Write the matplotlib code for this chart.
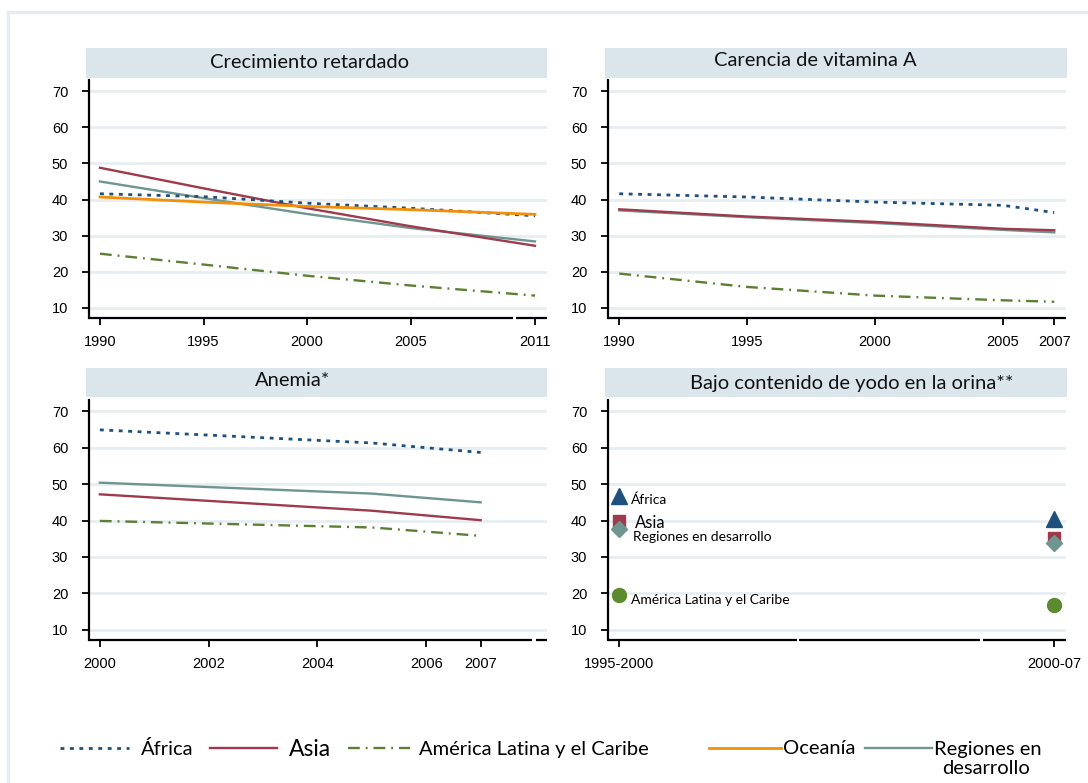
import matplotlib
matplotlib.use('Agg')
import matplotlib.pyplot as plt
from matplotlib.lines import Line2D
from matplotlib.patches import Rectangle

plt.rcParams['font.family'] = ['Liberation Sans', 'DejaVu Sans']
plt.rcParams['xtick.labelsize'] = 10.5
plt.rcParams['ytick.labelsize'] = 10.5
plt.rcParams['ytick.major.pad'] = 10
plt.rcParams['xtick.major.pad'] = 7
plt.rcParams['ytick.major.size'] = 5
plt.rcParams['xtick.major.size'] = 5
plt.rcParams['ytick.major.width'] = 1.3
plt.rcParams['xtick.major.width'] = 1.3
plt.rcParams['xtick.color'] = 'black'
plt.rcParams['ytick.color'] = 'black'

# ---------------- data ----------------
stunt_years = [1990, 1995, 2000, 2005, 2011]
stunt_africa = [41.6, 40.8, 39.0, 37.6, 35.5]
stunt_asia = [48.8, 43.1, 37.6, 32.6, 27.2]
stunt_lac = [25.0, 22.0, 18.9, 16.2, 13.4]
stunt_oceania = [40.7, 39.3, 38.1, 37.2, 35.9]
stunt_dev = [45.0, 40.4, 36.0, 32.1, 28.4]

vita_years = [1990, 1995, 2000, 2005, 2007]
vita_africa = [41.6, 40.7, 39.3, 38.4, 36.4]
vita_asia = [37.3, 35.3, 33.8, 31.9, 31.5]
vita_lac = [19.5, 15.8, 13.4, 12.1, 11.7]
vita_dev = [37.0, 35.1, 33.5, 31.6, 30.9]

anem_years = [2000, 2005, 2007]
anem_ticks = [2000, 2002, 2004, 2006, 2007]
anem_africa = [64.9, 61.3, 58.7]
anem_asia = [47.2, 42.7, 40.1]
anem_lac = [39.9, 38.1, 35.8]
anem_dev = [50.4, 47.4, 45.0]

iod_periods = ['1995-2000', '2000-07']
iod_africa = [46.7, 40.5]
iod_asia = [39.9, 35.3]
iod_lac = [19.6, 16.9]
iod_dev = [37.6, 33.9]

titles = ['Crecimiento retardado', 'Carencia de vitamina A', 'Anemia*',
          'Bajo contenido de yodo en la orina**']
legend_labels = ['África', 'Asia', 'América Latina y el Caribe', 'Oceanía',
                 'Regiones en\ndesarrollo']
y_ticks = [10, 20, 30, 40, 50, 60, 70]

# ---------------- styles ----------------
C_AFR = '#1f4f7d'
C_ASIA = '#9e3a4b'
C_LAC = '#5d7f33'
C_OCE = '#f0900c'
C_DEV = '#6e958f'
C_LACM = '#5b8a2f'
ST = {
    'afr': dict(color=C_AFR, lw=2.0, ls=(0, (1.4, 2.0))),
    'asia': dict(color=C_ASIA, lw=1.7, ls='-'),
    'lac': dict(color=C_LAC, lw=1.7, ls=(0, (5, 2.5, 0.8, 2.5))),
    'oce': dict(color=C_OCE, lw=2.0, ls='-'),
    'dev': dict(color=C_DEV, lw=1.7, ls='-'),
}

W, H = 1088, 783
fig = plt.figure(figsize=(W / 100, H / 100), dpi=100)
fig.patch.set_facecolor('white')

TITLE_FONT = ['Lato', 'DejaVu Sans']


def fx(x):
    return x / W


def fy(y):
    return 1 - y / H


def make_axes(l, t, r, b):
    return fig.add_axes([fx(l), fy(b), (r - l) / W, (b - t) / H])


def title_bar(l, t, r, b, text, cx, cy):
    fig.add_artist(Rectangle((fx(l), fy(b)), (r - l) / W, (b - t) / H,
                             transform=fig.transFigure, facecolor='#dae6ec',
                             edgecolor='none', zorder=0))
    fig.text(fx(cx), fy(cy), text, ha='center', va='center', fontsize=14.5,
             family=TITLE_FONT, color='#111111')


def style_axes(ax, gaps):
    ax.set_ylim(7.2, 73.1)
    ax.set_yticks(y_ticks)
    ax.yaxis.grid(True, color='#e7eef2', lw=2)
    ax.set_axisbelow(True)
    for s in ['top', 'right', 'bottom']:
        ax.spines[s].set_visible(False)
    ax.spines['left'].set_linewidth(1.6)
    # bottom spine drawn in segments (with small breaks)
    pts = [0.0] + [g for pair in gaps for g in pair] + [1.0]
    for i in range(0, len(pts), 2):
        ax.plot([pts[i], pts[i + 1]], [0, 0], transform=ax.transAxes,
                color='black', lw=1.6, clip_on=False, solid_capstyle='butt')


# outer frame
fig.add_artist(Rectangle((fx(8), fy(800)), (1110 - 8) / W, (800 - 12) / H,
                         transform=fig.transFigure, facecolor='none',
                         edgecolor='#e4ecef', lw=2.5))

# ---- panel 1 ----
title_bar(86, 48, 547, 78, titles[0], 309, 63)
ax1 = make_axes(89, 80, 547, 318)
ax1.plot(stunt_years, stunt_lac, **ST['lac'])
ax1.plot(stunt_years, stunt_dev, **ST['dev'])
ax1.plot(stunt_years, stunt_asia, **ST['asia'])
ax1.plot(stunt_years, stunt_africa, **ST['afr'])
ax1.plot(stunt_years, stunt_oceania, **ST['oce'])
ax1.set_xlim(1989.47, 2011.58)
ax1.set_xticks(stunt_years)
style_axes(ax1, [(0.926, 0.932)])

# ---- panel 2 ----
title_bar(605, 48, 1067, 78, titles[1], 815, 60)
ax2 = make_axes(608, 80, 1066, 318)
ax2.plot(vita_years, vita_lac, **ST['lac'])
ax2.plot(vita_years, vita_dev, **ST['dev'])
ax2.plot(vita_years, vita_asia, **ST['asia'])
ax2.plot(vita_years, vita_africa, **ST['afr'])
ax2.set_xlim(1989.56, 2007.46)
ax2.set_xticks(vita_years)
style_axes(ax2, [])

# ---- panel 3 ----
title_bar(86, 368, 547, 397, titles[2], 293, 381)
ax3 = make_axes(89, 400, 547, 640)
ax3.plot(anem_years, anem_lac, **ST['lac'])
ax3.plot(anem_years, anem_dev, **ST['dev'])
ax3.plot(anem_years, anem_asia, **ST['asia'])
ax3.plot(anem_years, anem_africa, **ST['afr'])
ax3.set_xlim(1999.80, 2008.22)
ax3.set_xticks(anem_ticks)
style_axes(ax3, [(0.967, 0.976)])

# ---- panel 4 ----
title_bar(605, 368, 1067, 397, titles[3], 852, 383)
ax4 = make_axes(608, 400, 1066, 640)
xs = list(range(len(iod_periods)))
ax4.plot(xs, iod_africa, ls='none', marker='^', ms=11, color=C_AFR)
ax4.plot(xs, iod_asia, ls='none', marker='s', ms=9, color=C_ASIA)
ax4.plot(xs, iod_dev, ls='none', marker='D', ms=8, color=C_DEV)
ax4.plot(xs, iod_lac, ls='none', marker='o', ms=10, color=C_LACM)
ax4.set_xlim(-0.026, 1.027)
ax4.set_xticks(xs)
ax4.set_xticklabels(iod_periods)
style_axes(ax4, [(0.413, 0.417), (0.812, 0.819)])
ax4.text(0.027, 45.8, 'África', fontsize=10, family=TITLE_FONT, va='center')
ax4.text(0.036, 39.2, 'Asia', fontsize=12, family=TITLE_FONT, va='center')
ax4.text(0.031, 35.6, 'Regiones en desarrollo', fontsize=10, family=TITLE_FONT,
         va='center')
ax4.text(0.027, 18.3, 'América Latina y el Caribe', fontsize=10,
         family=TITLE_FONT, va='center')

# ---- legend (manual) ----
leg_y = 748
samples = [
    ('afr', 60, 129, 141, 14.5),
    ('asia', 210, 277, 289, 16.5),
    ('lac', 348, 410, 419, 14.5),
    ('oce', 709, 781, 783, 14.5),
    ('dev', 865, 932, 934, 14.5),
]
for (key, x0, x1, tx, fs), lab in zip(samples, legend_labels):
    fig.add_artist(Line2D([fx(x0), fx(x1)], [fy(leg_y), fy(leg_y)],
                          transform=fig.transFigure, **ST[key]))
    if '\n' in lab:
        first, second = lab.split('\n')
        fig.text(fx(tx), fy(leg_y + 1), first, fontsize=fs, family=TITLE_FONT,
                 va='center', ha='left')
        fig.text(fx(tx + 52), fy(leg_y + 21), second, fontsize=fs,
                 family=TITLE_FONT, va='center', ha='center')
    else:
        fig.text(fx(tx), fy(leg_y + 1), lab, fontsize=fs, family=TITLE_FONT,
                 va='center', ha='left')

fig.savefig('out.png', dpi=100)
